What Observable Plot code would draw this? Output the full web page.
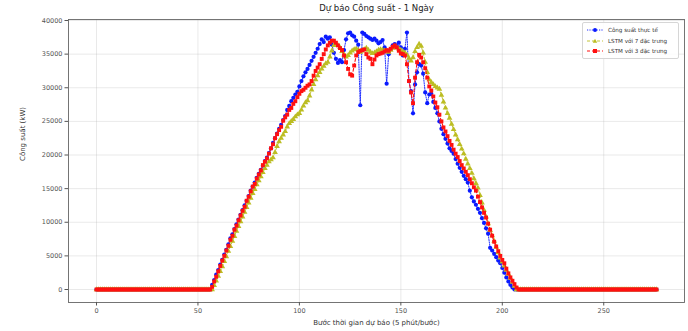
<!DOCTYPE html>
<html>
<head>
<meta charset="utf-8">
<script src="https://cdn.jsdelivr.net/npm/d3@7"></script>
<script src="https://cdn.jsdelivr.net/npm/@observablehq/plot@0.6"></script>
<style>
  html, body { margin: 0; padding: 0; background: #fff; }
  #wrap { position: relative; width: 688px; height: 331px; font-family: "DejaVu Sans", sans-serif; }
  #legend { position: absolute; left: 582px; top: 22px; width: 97px; height: 37px; border: 1px solid #d6d6d6; border-radius: 2px; background: rgba(255,255,255,0.85); box-sizing: border-box; }
  .row { position: absolute; left: 3px; height: 10px; display: flex; align-items: center; font-size: 5.6px; color: #333; white-space: nowrap; }
  .row svg { margin-right: 4px; }
</style>
</head>
<body>
<div id="wrap"></div>
<script>
const title = "Dự báo Công suất - 1 Ngày";
const xLabel = "Bước thời gian dự báo (5 phút/bước)";
const yLabel = "Công suất (kW)";
const seriesNames = ["Công suất thực tế", "LSTM với 7 đặc trưng", "LSTM với 3 đặc trưng"];
const seriesColors = ["#0a1aff", "#bcbd22", "#ff1010"];
const xTicks = [0, 50, 100, 150, 200, 250];
const yTicks = [0, 5000, 10000, 15000, 20000, 25000, 30000, 35000, 40000];

// Actual power (blue), step 0..276
const actual = [
  0,0,0,0,0,0,0,0,0,0,0,0,0,0,
  0,0,0,0,0,0,0,0,0,0,0,0,0,0,
  0,0,0,0,0,0,0,0,0,0,0,0,0,0,
  0,0,0,0,0,0,0,0,0,0,0,0,0,0,
  0,700,1400,2200,2900,3700,4400,5200,5900,6700,
  7600,8200,9000,9700,10400,11100,11800,12500,13200,13900,
  14700,15300,15900,16600,17200,17800,18400,19100,19600,20300,
  21000,21800,22500,23200,23900,24500,25200,25800,26700,27300,
  28000,28500,29000,29400,30200,31000,31700,32300,32800,33400,
  34000,34600,35200,35800,36500,37200,36800,37600,37300,37500,
  36400,35200,34300,33700,34100,33800,35600,37200,38100,38200,
  37800,37600,37000,36400,27400,38200,38000,37700,37500,37300,
  37100,37300,37000,36600,36800,37100,36000,30600,35000,35800,
  36300,36500,36200,36700,36000,34800,35800,38200,31000,29500,
  26200,30500,32300,33500,33300,32100,29300,27700,29000,29100,
  27900,27000,26200,25000,23900,23100,22400,21700,21000,20600,
  20200,19400,18700,18100,17500,16900,16400,15900,14700,13700,
  13100,12600,12000,11400,10600,9900,9100,8300,6200,5800,
  5300,4800,4300,3900,3200,2500,1800,1200,700,300,
  0,0,
  0,0,0,0,0,0,0,0,0,0,0,0,0,0,0,0,0,0,0,0,0,0,0,
  0,0,0,0,0,0,0,0,0,0,0,0,0,0,0,0,0,0,0,0,0,0,0,
  0,0,0,0,0,0,0,0,0,0,0,0,0,0,0,0,0,0,0,0,0,0,0
];

// LSTM with 7 features (olive)
const lstm7 = [
  0,0,0,0,0,0,0,0,0,0,0,0,0,0,
  0,0,0,0,0,0,0,0,0,0,0,0,0,0,
  0,0,0,0,0,0,0,0,0,0,0,0,0,0,
  0,0,0,0,0,0,0,0,0,0,0,0,0,0,
  0,0,600,1300,2000,2700,3400,4200,4900,5700,
  6400,7200,7900,8700,9400,10100,10800,11500,12200,12900,
  13600,14300,14900,15600,16200,16800,17400,18000,18500,19000,
  19300,19600,20400,21300,22000,22500,23000,23500,24200,24700,
  25000,25300,25700,26000,26200,26700,27300,27800,28100,28800,
  29700,30500,31200,31800,32300,32800,33200,33600,33800,34600,
  35500,36300,36500,36300,36000,35400,34900,34600,34800,35200,
  35500,35700,35800,35600,35300,35500,35700,35900,35600,35300,
  35100,35200,35400,35600,35700,35600,35500,35400,35300,35600,
  35900,36100,36000,35800,35600,35400,35200,34900,34400,34000,
  34500,35400,36000,36500,36200,35200,33800,32300,31200,30800,
  30500,30200,30000,29800,28900,27900,27000,26200,25500,24600,
  23800,23000,22300,21600,20900,20200,19400,18700,18000,17300,
  16500,15800,15100,14000,12900,11800,10800,9800,8800,8000,
  7200,6300,5500,4700,4100,3500,2900,2300,1700,1100,
  500,0,
  0,0,0,0,0,0,0,0,0,0,0,0,0,0,0,0,0,0,0,0,0,0,0,
  0,0,0,0,0,0,0,0,0,0,0,0,0,0,0,0,0,0,0,0,0,0,0,
  0,0,0,0,0,0,0,0,0,0,0,0,0,0,0,0,0,0,0,0,0,0,0
];

// LSTM with 3 features (red)
const lstm3 = [
  0,0,0,0,0,0,0,0,0,0,0,0,0,0,
  0,0,0,0,0,0,0,0,0,0,0,0,0,0,
  0,0,0,0,0,0,0,0,0,0,0,0,0,0,
  0,0,0,0,0,0,0,0,0,0,0,0,0,0,
  0,400,1200,1900,2700,3500,4300,5000,5800,6500,
  7400,8000,8900,9500,10300,11000,11700,12300,13200,13800,
  14600,15300,15700,16500,17100,17700,18500,19000,19500,20200,
  21000,21600,22500,23100,23700,24200,25100,25600,26000,26700,
  27000,27600,28000,28600,29100,29500,29700,30000,30300,30500,
  31000,31800,32500,33000,33500,34300,35000,35700,36300,36700,
  37000,37000,36700,36300,35900,35600,34800,33800,32800,32000,
  31800,33300,34800,35300,35500,35600,35700,35000,34500,34300,
  33500,34200,34800,35000,35100,35200,35400,35600,35500,35800,
  36100,36300,36000,35500,35100,35000,34800,33500,31000,29300,
  27700,31500,33800,34900,34500,33800,32900,31500,30200,29600,
  28700,27800,27100,26000,25000,24100,23500,22800,22100,21500,
  20800,20200,19700,19100,18500,18000,17500,17000,16400,15800,
  15200,14700,13800,13000,12200,11400,10700,9800,8900,8000,
  7100,6400,5700,5000,4400,3900,3100,2400,1800,1300,
  800,300,
  0,0,0,0,0,0,0,0,0,0,0,0,0,0,0,0,0,0,0,0,0,0,0,
  0,0,0,0,0,0,0,0,0,0,0,0,0,0,0,0,0,0,0,0,0,0,0,
  0,0,0,0,0,0,0,0,0,0,0,0,0,0,0,0,0,0,0,0,0,0,0
];

const steps = d3.range(actual.length);
const dActual = steps.map(i => ({x: i, y: actual[i]}));
const d7 = steps.map(i => ({x: i, y: lstm7[i]}));
const d3f = steps.map(i => ({x: i, y: lstm3[i]}));
const fmt = d3.format("d");

const chart = Plot.plot({
  width: 688,
  height: 331,
  marginLeft: 68,
  marginRight: 4,
  marginTop: 19,
  marginBottom: 29,
  style: {fontFamily: "DejaVu Sans, sans-serif", fontSize: "6.5px", color: "#333", background: "#fff"},
  x: {domain: [-13.8, 289.8]},
  y: {domain: [-1933, 40150]},
  marks: [
    Plot.gridX(xTicks, {stroke: "#b0b0b0", strokeOpacity: 0.35, strokeWidth: 0.8}),
    Plot.gridY(yTicks, {stroke: "#b0b0b0", strokeOpacity: 0.35, strokeWidth: 0.8}),
    Plot.frame({stroke: "#666", strokeWidth: 0.9}),
    Plot.axisX(xTicks, {tickSize: 3.5, tickPadding: 2.5, tickFormat: fmt, label: null, stroke: "#555", fill: "#555"}),
    Plot.axisY(yTicks, {tickSize: 3.5, tickPadding: 2.5, tickFormat: fmt, label: null, stroke: "#555", fill: "#555"}),
    // Actual
    Plot.line(dActual, {x: "x", y: "y", stroke: seriesColors[0], strokeWidth: 0.9, strokeDasharray: "1.2,1.2"}),
    Plot.dot(dActual, {x: "x", y: "y", fill: seriesColors[0], r: 2.1, stroke: "none"}),
    // LSTM 7
    Plot.line(d7, {x: "x", y: "y", stroke: seriesColors[1], strokeWidth: 0.9, strokeDasharray: "3,2"}),
    Plot.dot(d7, {x: "x", y: "y", fill: seriesColors[1], symbol: "triangle", r: 2.1, stroke: "none"}),
    // LSTM 3
    Plot.line(d3f, {x: "x", y: "y", stroke: seriesColors[2], strokeWidth: 1.1, strokeDasharray: "3,2"}),
    Plot.dot(d3f, {x: "x", y: "y", fill: seriesColors[2], symbol: "square", r: 2.2, stroke: "none"}),
    // Texts
    Plot.text([title], {frameAnchor: "top", dy: -11, lineAnchor: "middle", fontSize: 8.5, fill: "#222"}),
    Plot.text([xLabel], {frameAnchor: "bottom", dy: 20, lineAnchor: "middle", fontSize: 7, fill: "#333"}),
    Plot.text([yLabel], {frameAnchor: "left", dx: -46, rotate: -90, lineAnchor: "middle", fontSize: 7, fill: "#333"})
  ]
});

const wrap = document.getElementById("wrap");
wrap.appendChild(chart);

// Legend
const legend = document.createElement("div");
legend.id = "legend";
const markers = [
  '<circle cx="9" cy="4" r="2" fill="' + seriesColors[0] + '"/><line x1="1" x2="17" y1="4" y2="4" stroke="' + seriesColors[0] + '" stroke-width="0.9" stroke-dasharray="1.2,1.2"/>',
  '<path d="M9,1.8 L11.2,5.8 L6.8,5.8 Z" fill="' + seriesColors[1] + '"/><line x1="1" x2="17" y1="4" y2="4" stroke="' + seriesColors[1] + '" stroke-width="0.9" stroke-dasharray="3,2"/>',
  '<rect x="7" y="2" width="4" height="4" fill="' + seriesColors[2] + '"/><line x1="1" x2="17" y1="4" y2="4" stroke="' + seriesColors[2] + '" stroke-width="1.1" stroke-dasharray="3,2"/>'
];
seriesNames.forEach((name, i) => {
  const row = document.createElement("div");
  row.className = "row";
  row.style.top = (2 + i * 10.5) + "px";
  row.innerHTML = '<svg width="18" height="8">' + markers[i] + '</svg><span>' + name + '</span>';
  legend.appendChild(row);
});
wrap.appendChild(legend);
</script>
</body>
</html>
